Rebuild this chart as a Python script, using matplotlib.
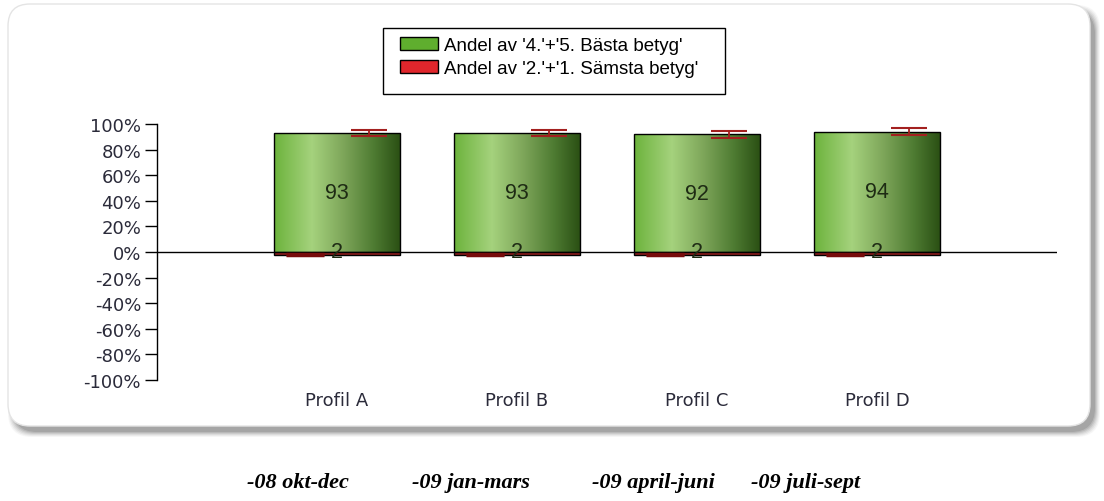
import numpy as np
import matplotlib.pyplot as plt
from matplotlib import font_manager
from matplotlib.colors import LinearSegmentedColormap
from matplotlib.patches import FancyBboxPatch, Patch, Rectangle

# Data
profiles = ['Profil A', 'Profil B', 'Profil C', 'Profil D']
best_pct = [93, 93, 92, 94]
best_err = [2.7, 2.7, 2.7, 2.7]
worst_pct = [-2, -2, -2, -2]
worst_err = [0.6, 0.6, 0.6, 0.6]
periods = ['-08 okt-dec', '-09 jan-mars', '-09 april-juni', '-09 juli-sept']
period_x = [298, 471, 653, 806]   # pixel centres of the period captions
yticks = list(range(-100, 101, 20))
legend_labels = ["Andel av '4.'+'5. Bästa betyg'", "Andel av '2.'+'1. Sämsta betyg'"]

names = {f.name for f in font_manager.fontManager.ttflist}
narrow = 'Liberation Sans Narrow' if 'Liberation Sans Narrow' in names else 'Liberation Sans'

W, H = 1104, 502
fig = plt.figure(figsize=(W / 100, H / 100), dpi=100)

# background panel with soft shadow, in pixel coordinates
bg = fig.add_axes([0, 0, 1, 1])
bg.set_xlim(0, W)
bg.set_ylim(H, 0)
bg.axis('off')
for grow, a in [(5, 0.05), (4, 0.07), (3, 0.09), (2, 0.12), (1, 0.15), (0, 0.2)]:
    bg.add_patch(FancyBboxPatch((8 + 5 - grow, 5 + 6 - grow), 1082 + 2 * grow, 422 + 2 * grow,
                                boxstyle='round,pad=0,rounding_size=24',
                                fc='#555555', ec='none', alpha=a))
bg.add_patch(FancyBboxPatch((8, 5), 1082, 422, boxstyle='round,pad=0,rounding_size=22',
                            fc='white', ec='#e4e4e4', lw=1))

# legend frame + legend
bg.add_patch(Rectangle((383, 29), 342, 66, fc='white', ec='black', lw=1))
handles = [Patch(fc='#5fae2e', ec='black', lw=1), Patch(fc='#e0262c', ec='black', lw=1)]
fig.legend(handles, legend_labels, loc='upper left', bbox_to_anchor=(400 / W, 1 - 38 / H),
           frameon=False, handlelength=2.03, handleheight=0.7, handletextpad=0.32,
           labelspacing=0.3, borderpad=0, borderaxespad=0,
           prop={'family': narrow, 'size': 13.5})

# main axes
ax = fig.add_axes([157 / W, 1 - 381 / H, 900 / W, 256 / H])
ax.patch.set_alpha(0)
x = np.arange(len(profiles))

green = LinearSegmentedColormap.from_list('g', [(0, '#6cb33c'), (0.3, '#a5d27d'),
                                                (0.55, '#7ea65a'), (0.8, '#4d7a31'),
                                                (1, '#2b5014')])
grad = np.linspace(0, 1, 256).reshape(1, -1)

bars = ax.bar(x, best_pct, width=0.7, color='none', edgecolor='black', lw=1, zorder=3)
for rect in bars:
    x0, w, h = rect.get_x(), rect.get_width(), rect.get_height()
    im = ax.imshow(grad, cmap=green, aspect='auto', extent=[x0, x0 + w, 0, h], zorder=2)
    im.set_clip_path(rect)
ax.bar(x, worst_pct, width=0.7, color='#8e1d1d', edgecolor='black', lw=1, zorder=3)

ax.axhline(0, color='black', lw=1, zorder=1.5)

ax.errorbar(x + 0.18, best_pct, yerr=best_err, fmt='none', ecolor='#a3201f',
            capsize=13, elinewidth=1.3, capthick=1.5, zorder=5)
ax.errorbar(x - 0.18, worst_pct, yerr=worst_err, fmt='none', ecolor='#780c0c',
            capsize=14, elinewidth=1.5, capthick=2.5, zorder=5)

for xi, v in zip(x, best_pct):
    ax.text(xi, v / 2, str(v), ha='center', va='center', fontsize=15.5,
            family=narrow, color='#1e2b14', zorder=6)
for xi, v in zip(x, worst_pct):
    ax.text(xi, 0, str(abs(v)), ha='center', va='center', fontsize=15.5,
            family=narrow, color='#1e2b14', zorder=6)

ax.set_xlim(-1, 4)
ax.set_ylim(-100, 100)
ax.set_yticks(yticks, [f'{t}%' for t in yticks])
ax.set_xticks(x, profiles)
ax.tick_params(axis='y', length=8.5, width=1, color='black', labelsize=13,
               labelcolor='#2b2b3a', pad=3)
ax.tick_params(axis='x', length=0, labelsize=13, labelcolor='#2b2b3a', pad=8)
for s in ['top', 'right', 'bottom']:
    ax.spines[s].set_visible(False)
ax.spines['left'].set_linewidth(1)

# period captions below the panel
for px, p in zip(period_x, periods):
    bg.text(px, 483, p, ha='center', va='center', family='Liberation Serif',
            weight='bold', style='italic', fontsize=16, color='black')

fig.savefig('out.png', dpi=100)
